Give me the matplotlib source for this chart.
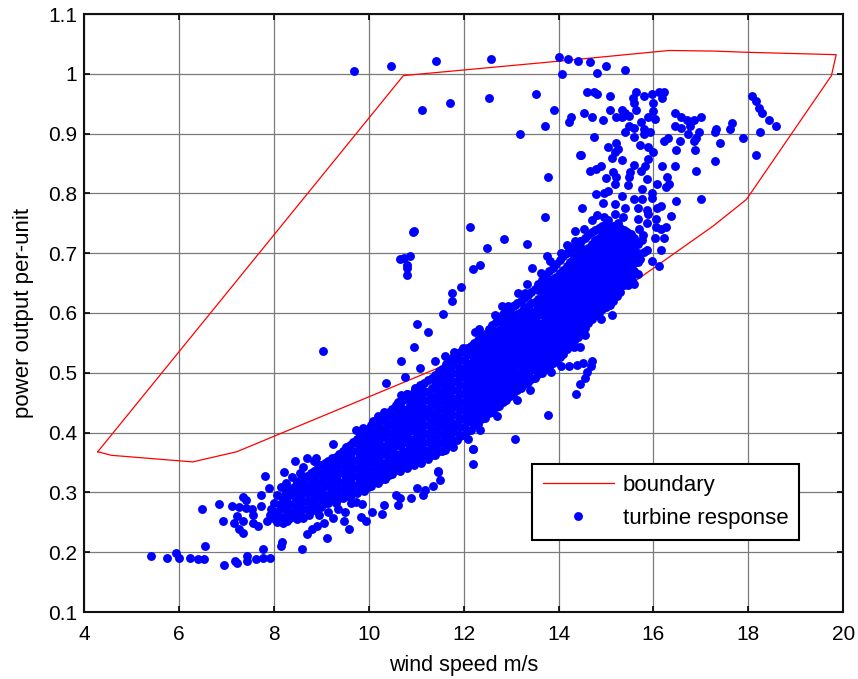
import matplotlib
matplotlib.use("Agg")
import matplotlib.pyplot as plt

plt.rcParams['font.family'] = ['Liberation Sans', 'DejaVu Sans']

boundary_x = [4.29, 4.58, 6.29, 7.22, 15.25, 17.25, 17.96, 19.75, 19.85, 17.96, 17.26, 16.33, 13.99, 10.73, 4.29]
boundary_y = [.368, .362, .351, .368, .633, .745, .790, .997, 1.032, 1.036, 1.038, 1.039, 1.021, .997, .368]

scatter_low = [
(5.41,.193),(5.75,.191),(5.93,.199),(6.0,.190),(6.23,.191),(6.40,.188),(6.52,.188),(6.56,.211),(6.49,.273),(6.85,.281),
(6.93,.253),(6.96,.179),(7.11,.278),(7.17,.249),(7.18,.185),(7.22,.182),(7.22,.261),(7.26,.276),(7.34,.293),(7.41,.287),
(7.41,.274),(7.36,.252),(7.27,.239),(7.36,.232),(7.44,.193),(7.44,.185),(7.55,.273),(7.56,.262),(7.56,.249),(7.67,.244),
(7.63,.188),(7.77,.206),(7.77,.191),(7.92,.191),(7.74,.296),(7.81,.328),(7.89,.308),(7.74,.278),(7.85,.252),(7.95,.273),
(8.06,.25),(8.15,.21),(8.18,.217),(8.22,.334),(8.26,.315),(8.16,.309),(8.06,.295),(8.13,.281),(8.20,.248),(8.44,.352),
(8.55,.332),(8.48,.318),(8.34,.298),(8.59,.206),(8.69,.231),(8.80,.238),(8.92,.244),(9.06,.249),(9.13,.223),(9.25,.258),
(9.47,.252),(9.58,.238),(9.51,.267),(8.70,.358),(8.88,.358),(9.25,.381),(9.74,.404),(9.87,.407),(10.10,.419),(10.20,.427),
(10.32,.434),(10.36,.483),(10.62,.452),(10.69,.463),(10.81,.464),(10.97,.471),(11.09,.477),(9.84,.259),(9.94,.252),(10.06,.267),
(10.29,.264),(10.32,.279),(10.62,.279),(10.66,.291),(10.57,.296),(10.90,.291),(11.02,.308),(11.15,.296),(11.18,.304),(11.35,.311),
(11.50,.32),(11.47,.334),(12.20,.347),(12.20,.372),(9.74,.284),(9.85,.281),(7.98,.258),(8.0,.283),(7.92,.262),
(8.02,.268),(8.08,.262),(8.12,.272),(8.18,.258),(8.18,.292),(8.22,.275),(8.28,.252),(8.35,.258),(8.48,.256),(8.62,.258),
(8.75,.262),(8.95,.262),(9.15,.268),(9.35,.272),(9.62,.282),(8.38,.325),(8.62,.342),(8.85,.352),
]
scatter_top = [
(9.69,1.004),(10.47,1.013),(11.42,1.022),(12.57,1.025),(14.01,1.028),(14.19,1.025),(14.41,1.022),(14.67,1.020),(14.08,.999),(11.13,.940),
(11.72,.951),(12.53,.960),(13.53,.966),(14.59,.969),(13.90,.940),(14.27,.928),(14.23,.919),(14.53,.934),(14.70,.928),(13.71,.913),
(13.19,.899),(14.45,.864),(14.67,.837),(13.78,.828),(14.49,.776),(13.71,.761),(14.70,.755),(10.95,.737),(12.13,.743),(14.34,.737),
(14.53,.740),(12.86,.723),(13.34,.716),(12.50,.708),(14.18,.713),(14.35,.720),(14.45,.721),
(15.01,1.013),(14.82,1.002),(15.41,1.007),(14.75,.969),(14.82,.966),(15.08,.963),(15.63,.969),(15.56,.960),(15.60,.952),
(15.81,.963),(15.96,.966),(16.11,.969),(16.23,.969),(16.19,.960),(16.0,.952),(15.63,.940),(15.08,.940),(15.34,.940),(15.41,.935),
(15.48,.929),(15.22,.928),(15.34,.928),(14.93,.922),(16.0,.937),(15.89,.928),(16.04,.925),(15.74,.919),(15.48,.913),(15.60,.910),
(15.79,.908),(15.41,.902),(15.93,.902),(15.79,.899),(15.60,.895),(14.75,.895),(15.71,.881),(15.04,.878),(15.22,.884),(15.26,.875),
(15.89,.878),(16.0,.869),(15.19,.869),(15.12,.860),(15.34,.856),(15.89,.857),(14.47,.864),(14.89,.846),(14.78,.841),(15.60,.848),
(15.82,.846),(15.74,.837),(15.50,.835),(15.15,.835),(15.01,.825),(15.22,.828),(15.48,.828),(15.86,.824),(16.19,.846),(16.45,.846),
(16.89,.837),(17.29,.855),(18.15,.864),(16.28,.828),(16.08,.816),(16.33,.816),(16.26,.810),(15.46,.814),(15.19,.815),(15.75,.807),
(15.04,.804),(14.78,.799),(14.96,.801),(15.96,.801),(15.96,.793),(15.33,.796),(15.60,.790),(15.75,.790),(16.48,.787),(17.0,.790),
(14.93,.784),(15.19,.782),(15.41,.776),(16.16,.779),(16.08,.775),(15.86,.772),(16.37,.763),(15.68,.775),(15.89,.765),(14.82,.764),
(15.19,.765),(15.26,.751),(15.68,.757),(16.05,.757),(15.86,.751),(16.26,.743),(16.15,.740),(16.05,.743),(16.04,.726),(16.22,.725),
(15.86,.705),(16.15,.705),(15.96,.687),(16.12,.678),(15.60,.649),(15.46,.646),(15.15,.634),(15.08,.613),
(15.70,.740),(15.75,.722),(15.80,.702),(15.72,.690),(15.68,.665),(15.55,.655),(15.78,.730),(14.95,.760),(15.05,.755),(15.35,.760),
(16.45,.934),(16.59,.928),(16.70,.922),(16.85,.922),(17.0,.928),(16.45,.912),(16.59,.910),(16.77,.912),(16.96,.902),(16.73,.899),
(16.89,.893),(16.85,.887),(16.30,.893),(16.22,.887),(16.55,.887),(16.48,.872),(16.87,.872),(17.32,.908),(17.29,.902),(17.66,.917),
(17.62,.908),(17.40,.884),(17.88,.893),(18.25,.902),(18.07,.963),(18.15,.954),(18.22,.943),(18.29,.934),(18.43,.922),(18.58,.913),
]
scatter_mid = [
(10.94,.735),(10.80,.664),(10.81,.676),(10.87,.695),(10.74,.692),(10.66,.690),(10.80,.681),(12.20,.673),(12.34,.681),(13.45,.676),
(13.64,.667),(13.75,.695),(13.82,.687),(13.34,.649),(13.15,.634),(13.29,.634),(11.94,.643),(11.76,.634),(11.76,.620),(11.57,.599),
(11.02,.581),(11.24,.569),(12.24,.569),(12.32,.573),(10.95,.543),(10.69,.519),(11.09,.508),(10.76,.493),(11.39,.519),(11.61,.528),
(11.80,.535),(10.80,.464),(11.09,.479),(10.97,.474),(12.20,.372),(11.47,.335),(13.09,.390),(13.78,.429),(14.37,.464),(14.45,.481),
(14.56,.491),(14.60,.502),(14.68,.511),(14.71,.520),(14.52,.517),(14.38,.513),(14.22,.512),(14.05,.512),(13.84,.502),(14.45,.543),
(14.33,.543),(14.89,.590),(15.12,.596),(14.56,.564),(13.40,.472),(13.12,.455),(12.70,.427),(12.34,.404),(12.10,.390),(11.78,.376),
(11.61,.371),(12.66,.597),(12.80,.611),(13.08,.614),(12.94,.611),(12.76,.589),(11.99,.541),(14.06,.701),(14.2,.712),(9.03,.537),
]

band_x = [8.25, 8.40, 8.55, 8.70, 8.85,
          9.00, 9.15, 9.30, 9.45, 9.60, 9.75, 9.90, 10.05, 10.20, 10.35, 10.50, 10.65, 10.80, 10.95, 11.10, 11.25,
          11.40, 11.55, 11.70, 11.85, 12.00, 12.15, 12.30, 12.45, 12.60, 12.75, 12.90, 13.05, 13.20, 13.35, 13.50,
          13.65, 13.80, 13.95, 14.10, 14.25, 14.40, 14.55, 14.70, 14.85, 15.00, 15.15, 15.30, 15.45, 15.60]
band_y = [
 [.262,.274,.288,.300],
 [.268,.281,.295,.308],
 [.266,.279,.292,.305,.320],
 [.272,.286,.299,.312,.328],
 [.270,.283,.296,.309,.322,.336],
 [.275,.289,.303,.317,.331,.345],
 [.282,.296,.310,.324,.338,.352],
 [.283,.297,.311,.325,.339,.353,.360],
 [.290,.304,.318,.332,.346,.358,.370],
 [.292,.306,.320,.334,.348,.362,.380],
 [.299,.313,.327,.341,.355,.369,.383,.390],
 [.302,.316,.330,.344,.358,.372,.386,.400],
 [.310,.324,.338,.352,.366,.380,.394,.412],
 [.315,.329,.343,.357,.371,.385,.399,.413,.420],
 [.322,.336,.350,.364,.378,.392,.406,.420,.428],
 [.330,.344,.358,.372,.386,.400,.414,.428,.440],
 [.335,.349,.363,.377,.391,.405,.419,.433,.450],
 [.340,.354,.368,.382,.396,.410,.424,.438,.458],
 [.346,.360,.374,.388,.402,.416,.430,.444,.456,.468],
 [.350,.364,.378,.392,.406,.420,.434,.448,.462,.478],
 [.356,.370,.384,.398,.412,.426,.440,.454,.468,.488],
 [.362,.376,.390,.404,.418,.432,.446,.460,.474,.486,.497],
 [.370,.384,.398,.412,.426,.440,.454,.468,.482,.494,.507],
 [.380,.394,.408,.422,.436,.450,.464,.478,.492,.506,.520],
 [.388,.402,.416,.430,.444,.458,.472,.486,.500,.514,.530],
 [.396,.410,.424,.438,.452,.466,.480,.494,.508,.522,.538],
 [.405,.419,.433,.447,.461,.475,.489,.503,.517,.531,.545],
 [.415,.429,.443,.457,.471,.485,.499,.513,.527,.541,.555],
 [.425,.439,.453,.467,.481,.495,.509,.523,.537,.551,.565],
 [.435,.449,.463,.477,.491,.505,.519,.533,.547,.561,.580],
 [.445,.459,.473,.487,.501,.515,.529,.543,.557,.571,.592],
 [.455,.469,.483,.497,.511,.525,.539,.553,.567,.581,.595,.605],
 [.465,.479,.493,.507,.521,.535,.549,.563,.577,.591,.612],
 [.475,.489,.503,.517,.531,.545,.559,.573,.587,.601,.620],
 [.485,.499,.513,.527,.541,.555,.569,.583,.597,.611,.630],
 [.492,.506,.520,.534,.548,.562,.576,.590,.604,.618,.640],
 [.500,.514,.528,.542,.556,.570,.584,.598,.612,.626,.640,.655],
 [.510,.524,.538,.552,.566,.580,.594,.608,.622,.636,.650,.670],
 [.520,.534,.548,.562,.576,.590,.604,.618,.632,.646,.660,.682],
 [.532,.546,.560,.574,.588,.602,.616,.630,.644,.658,.672,.695],
 [.545,.559,.573,.587,.601,.615,.629,.643,.657,.671,.685,.705],
 [.560,.574,.588,.602,.616,.630,.644,.658,.672,.686,.700,.715],
 [.575,.589,.603,.617,.631,.645,.659,.673,.687,.701,.725],
 [.590,.604,.618,.632,.646,.660,.674,.688,.702,.716,.735],
 [.600,.614,.628,.642,.656,.670,.684,.698,.712,.726,.742],
 [.610,.624,.638,.652,.666,.680,.694,.708,.722,.736,.748],
 [.620,.634,.648,.662,.676,.690,.704,.718,.732,.745],
 [.635,.649,.663,.677,.691,.705,.719,.733,.742],
 [.655,.669,.683,.697,.711,.725,.735],
 [.670,.684,.698,.712,.725],
]

band2_x = [8.325, 8.475, 8.625, 8.775, 8.925, 9.075, 9.225, 9.375, 9.525, 9.675, 9.825, 9.975, 10.125, 10.275, 10.425,
           10.575, 10.725, 10.875, 11.025, 11.175, 11.325, 11.475, 11.625, 11.775, 11.925, 12.075, 12.225, 12.375,
           12.525, 12.675, 12.825, 12.975, 13.125, 13.275, 13.425, 13.575, 13.725, 13.875, 14.025, 14.175, 14.325,
           14.475, 14.625, 14.775, 14.925, 15.075, 15.225, 15.375, 15.525, 15.675]
band2_y = [
 [.268,.281,.295,.308],
 [.272,.285,.298,.312],
 [.272,.286,.300,.314,.326],
 [.277,.291,.305,.319,.333],
 [.276,.290,.304,.318,.332,.345],
 [.282,.296,.310,.324,.338,.350],
 [.289,.303,.317,.331,.345,.357],
 [.290,.304,.318,.332,.346,.364],
 [.297,.311,.325,.339,.353,.367,.376],
 [.299,.313,.327,.341,.355,.369,.385],
 [.306,.320,.334,.348,.362,.376,.390,.396],
 [.309,.323,.337,.351,.365,.379,.393,.406],
 [.317,.331,.345,.359,.373,.387,.401,.416],
 [.322,.336,.350,.364,.378,.392,.406,.424],
 [.329,.343,.357,.371,.385,.399,.413,.427,.435],
 [.337,.351,.365,.379,.393,.407,.421,.435,.446],
 [.342,.356,.370,.384,.398,.412,.426,.440,.454],
 [.348,.362,.376,.390,.404,.418,.432,.446,.462],
 [.353,.367,.381,.395,.409,.423,.437,.451,.465,.473],
 [.357,.371,.385,.399,.413,.427,.441,.455,.469,.483],
 [.363,.377,.391,.405,.419,.433,.447,.461,.475,.492],
 [.369,.383,.397,.411,.425,.439,.453,.467,.481,.493,.503],
 [.377,.391,.405,.419,.433,.447,.461,.475,.489,.503,.514],
 [.387,.401,.415,.429,.443,.457,.471,.485,.499,.513,.526],
 [.395,.409,.423,.437,.451,.465,.479,.493,.507,.521,.535],
 [.403,.417,.431,.445,.459,.473,.487,.501,.515,.529,.542],
 [.412,.426,.440,.454,.468,.482,.496,.510,.524,.538,.550],
 [.422,.436,.450,.464,.478,.492,.506,.520,.534,.548,.560],
 [.432,.446,.460,.474,.488,.502,.516,.530,.544,.558,.573],
 [.442,.456,.470,.484,.498,.512,.526,.540,.554,.568,.585],
 [.452,.466,.480,.494,.508,.522,.536,.550,.564,.578,.598],
 [.462,.476,.490,.504,.518,.532,.546,.560,.574,.588,.602,.610],
 [.472,.486,.500,.514,.528,.542,.556,.570,.584,.598,.616],
 [.482,.496,.510,.524,.538,.552,.566,.580,.594,.608,.625],
 [.490,.504,.518,.532,.546,.560,.574,.588,.602,.616,.635],
 [.498,.512,.526,.540,.554,.568,.582,.596,.610,.624,.638,.648],
 [.507,.521,.535,.549,.563,.577,.591,.605,.619,.633,.647,.662],
 [.517,.531,.545,.559,.573,.587,.601,.615,.629,.643,.657,.676],
 [.527,.541,.555,.569,.583,.597,.611,.625,.639,.653,.667,.688],
 [.539,.553,.567,.581,.595,.609,.623,.637,.651,.665,.679,.700],
 [.553,.567,.581,.595,.609,.623,.637,.651,.665,.679,.693,.710],
 [.568,.582,.596,.610,.624,.638,.652,.666,.680,.694,.708,.720],
 [.583,.597,.611,.625,.639,.653,.667,.681,.695,.709,.730],
 [.596,.610,.624,.638,.652,.666,.680,.694,.708,.722,.738],
 [.606,.620,.634,.648,.662,.676,.690,.704,.718,.732,.745],
 [.616,.630,.644,.658,.672,.686,.700,.714,.728,.742],
 [.628,.642,.656,.670,.684,.698,.712,.726,.740],
 [.646,.660,.674,.688,.702,.716,.730,.738],
 [.664,.678,.692,.706,.720,.732],
 [.685,.700,.715],
]

x_ticks = [4, 6, 8, 10, 12, 14, 16, 18, 20]
y_ticks = [.1, .2, .3, .4, .5, .6, .7, .8, .9, 1, 1.1]
y_tick_labels = ['0.1', '0.2', '0.3', '0.4', '0.5', '0.6', '0.7', '0.8', '0.9', '1', '1.1']

W, H = 858, 679
fig = plt.figure(figsize=(W / 100, H / 100), dpi=100, facecolor='white')
ax = fig.add_axes([84 / W, 1 - 612 / H, (843.3 - 84) / W, (612 - 14) / H])

ax.plot(boundary_x, boundary_y, color='#ff0000', lw=0.9, label='boundary', zorder=3)

all_x = [p[0] for p in scatter_low + scatter_mid + scatter_top]
all_y = [p[1] for p in scatter_low + scatter_mid + scatter_top]
for xs, yss in ((band_x, band_y), (band2_x, band2_y)):
    for x, ys in zip(xs, yss):
        all_x += [x] * len(ys)
        all_y += ys
ax.plot(all_x, all_y, ls='none', marker='o', ms=6.4, mew=0, color='#0000ff',
        label='turbine response', zorder=4)

ax.set_xlim(4, 20)
ax.set_ylim(.1, 1.1)
ax.set_xticks(x_ticks)
ax.set_yticks(y_ticks)
ax.set_yticklabels(y_tick_labels)
ax.grid(True, color='#7a7a7a', lw=0.9, zorder=1)
ax.set_axisbelow(True)
ax.tick_params(direction='in', length=4, width=1.2, top=True, right=True, labelsize=15, color='black')
ax.tick_params(axis='x', pad=9)
ax.tick_params(axis='y', pad=5)
for s in ax.spines.values():
    s.set_linewidth(1.5)
    s.set_color('#111111')
ax.set_xlabel('wind speed m/s', fontsize=15.5, labelpad=8)
ax.set_ylabel('power output per-unit', fontsize=16, labelpad=10)

leg = ax.legend(loc='upper left',
                bbox_to_anchor=((532 - 84) / (843.3 - 84), (612 - 464) / (612 - 14)),
                borderaxespad=0, fontsize=16, frameon=True, fancybox=False, framealpha=1,
                edgecolor='black', handlelength=3.2, handletextpad=0.4, borderpad=0.48,
                labelspacing=0.55, numpoints=1)
leg.get_frame().set_linewidth(1.5)
leg.set_zorder(6)

fig.savefig('out.png', dpi=100)
